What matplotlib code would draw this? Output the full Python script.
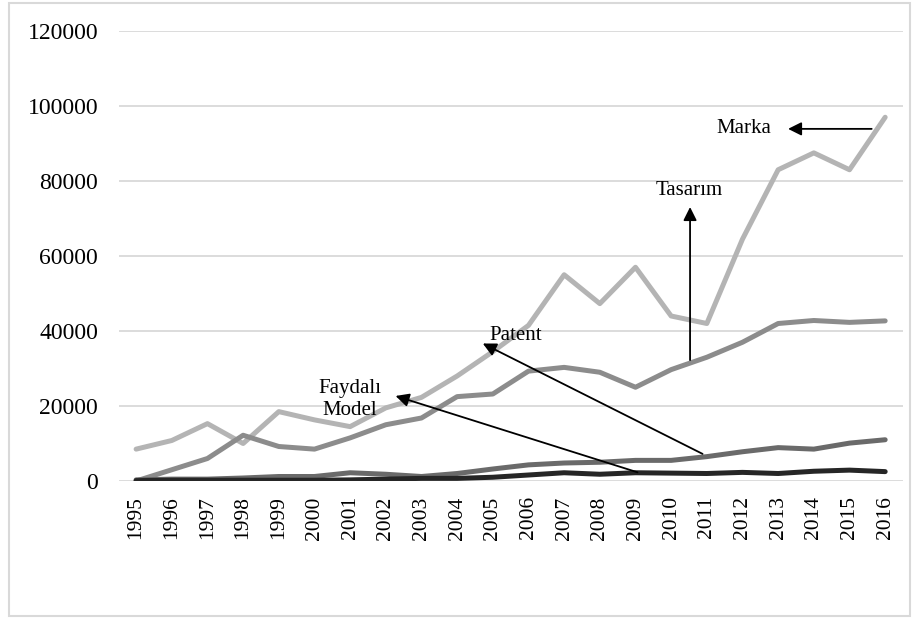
import matplotlib.pyplot as plt
from matplotlib.patches import Rectangle

plt.rcParams['font.family'] = ['Liberation Serif', 'DejaVu Serif']

years = list(range(1995, 2017))
marka = [8500, 10800, 15300, 10000, 18500, 16300, 14500, 19500, 22300, 28000, 34500,
         41500, 55000, 47300, 57000, 44000, 42000, 64500, 83000, 87500, 83000, 97000]
tasarim = [0, 3000, 6000, 12200, 9200, 8500, 11500, 15000, 16800, 22500, 23200,
           29300, 30300, 29000, 25000, 29700, 33000, 37000, 42000, 42800, 42300, 42700]
patent = [300, 500, 500, 800, 1200, 1200, 2200, 1800, 1200, 2000, 3200,
          4300, 4800, 5000, 5500, 5500, 6500, 7800, 8900, 8500, 10100, 11000]
faydali = [100, 200, 200, 200, 200, 200, 300, 500, 700, 700, 1000,
           1600, 2200, 1800, 2200, 2100, 2000, 2300, 2000, 2600, 2900, 2500]

fig = plt.figure(figsize=(9.21, 6.18), dpi=100)
ax = fig.add_axes([119/921, 1 - 481/618, (903 - 119)/921, (481 - 31)/618])

# outer chart border
fig.patches.append(Rectangle((9/921, 2/618), 901/921, 613/618, transform=fig.transFigure,
                             fill=False, edgecolor='#d9d9d9', linewidth=1.5))

lw = 3.6
ax.plot(years, marka, color='#b4b4b4', lw=lw, solid_capstyle='round', zorder=3)
ax.plot(years, tasarim, color='#8c8c8c', lw=lw, solid_capstyle='round', zorder=3)
ax.plot(years, patent, color='#6a6a6a', lw=lw, solid_capstyle='round', zorder=3)
ax.plot(years, faydali, color='#262626', lw=lw, solid_capstyle='round', zorder=3)

ax.set_xlim(1994.52, 2016.5)
ax.set_ylim(0, 120000)
ax.set_yticks(range(0, 120001, 20000))
ax.set_xticks(years)
ax.set_xticklabels([str(y) for y in years], rotation=90, fontsize=15.5)
ax.tick_params(axis='y', length=0, pad=15, labelsize=17)
ax.tick_params(axis='x', length=0, pad=11)
ax.grid(axis='y', color='#d9d9d9', lw=1.3, zorder=0)
for s in ax.spines.values():
    s.set_visible(False)

ap = dict(arrowstyle='-|>', color='black', lw=1.3, mutation_scale=20)
ax.annotate('', xy=(2013.2, 93900), xytext=(2015.7, 93900), arrowprops=ap)
ax.text(2012.05, 93900, 'Marka', ha='center', va='center', fontsize=15)
ax.annotate('', xy=(2010.53, 73800), xytext=(2010.53, 31500), arrowprops=ap)
ax.text(2010.5, 77500, 'Tasarım', ha='center', va='center', fontsize=15)
ax.annotate('', xy=(2004.65, 37000), xytext=(2010.95, 6900), arrowprops=ap)
ax.text(2005.65, 38700, 'Patent', ha='center', va='center', fontsize=15)
ax.annotate('', xy=(2002.2, 22900), xytext=(2009.13, 2100), arrowprops=ap)
ax.text(2001.0, 21800, 'Faydalı\nModel', ha='center', va='center', fontsize=15,
        linespacing=1.2)

fig.savefig('out.png', dpi=100)
